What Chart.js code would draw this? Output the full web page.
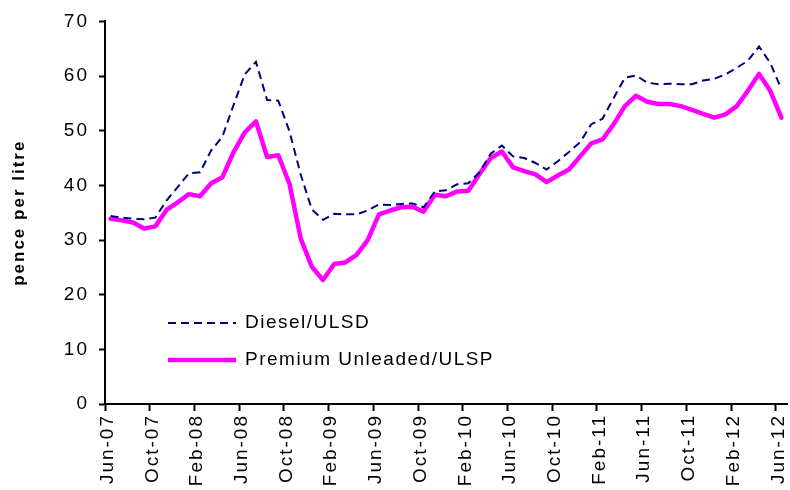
<!DOCTYPE html>
<html>
<head>
<meta charset="utf-8">
<script src="https://cdn.jsdelivr.net/npm/chart.js@4.4.1/dist/chart.umd.min.js"></script>
<style>
  body { margin: 0; background: #fff; }
  #wrap { width: 790px; height: 490px; position: relative; }
</style>
</head>
<body>
<div id="wrap"><canvas id="lineGraph"></canvas></div>
<script>
var months = [
    'Jun-07', 'Jul-07', 'Aug-07', 'Sep-07', 'Oct-07', 'Nov-07', 'Dec-07', 'Jan-08',
    'Feb-08', 'Mar-08', 'Apr-08', 'May-08', 'Jun-08', 'Jul-08', 'Aug-08', 'Sep-08',
    'Oct-08', 'Nov-08', 'Dec-08', 'Jan-09', 'Feb-09', 'Mar-09', 'Apr-09', 'May-09',
    'Jun-09', 'Jul-09', 'Aug-09', 'Sep-09', 'Oct-09', 'Nov-09', 'Dec-09', 'Jan-10',
    'Feb-10', 'Mar-10', 'Apr-10', 'May-10', 'Jun-10', 'Jul-10', 'Aug-10', 'Sep-10',
    'Oct-10', 'Nov-10', 'Dec-10', 'Jan-11', 'Feb-11', 'Mar-11', 'Apr-11', 'May-11',
    'Jun-11', 'Jul-11', 'Aug-11', 'Sep-11', 'Oct-11', 'Nov-11', 'Dec-11', 'Jan-12',
    'Feb-12', 'Mar-12', 'Apr-12', 'May-12', 'Jun-12'
];

var diesel = [
    34.4, 34.1, 33.9, 33.8, 34.1, 37.2, 39.7, 42.2, 42.4, 46.4, 48.9, 54.7,
    60.3, 62.6, 55.6, 55.5, 49.9, 42.0, 35.6, 33.7, 34.8, 34.7, 34.7, 35.4,
    36.5, 36.4, 36.6, 36.7, 36.0, 38.9, 39.1, 40.2, 40.4, 42.4, 45.8, 47.3,
    45.3, 45.0, 44.1, 42.9, 44.4, 46.1, 47.9, 51.2, 52.2, 56.0, 59.7, 60.1,
    58.8, 58.5, 58.6, 58.5, 58.5, 59.2, 59.5, 60.3, 61.5, 62.8, 65.4, 62.4,
    57.6
];

var premium = [
    33.9, 33.6, 33.2, 32.1, 32.5, 35.5, 36.9, 38.4, 38.0, 40.4, 41.5, 46.1,
    49.7, 51.7, 45.2, 45.5, 40.3, 30.3, 25.1, 22.7, 25.6, 25.9, 27.3, 30.0,
    34.7, 35.4, 36.0, 36.1, 35.2, 38.3, 38.0, 38.9, 39.0, 42.1, 45.0, 46.2,
    43.3, 42.6, 42.0, 40.6, 41.8, 42.9, 45.3, 47.7, 48.4, 51.2, 54.5, 56.4,
    55.3, 54.9, 54.9, 54.5, 53.8, 53.1, 52.4, 53.0, 54.5, 57.3, 60.4, 57.3,
    52.4
];

var yTicks = [0, 10, 20, 30, 40, 50, 60, 70];

var FONT = "'Liberation Sans', Arial, sans-serif";

// Excel-style wide text spacing
var spacingPlugin = {
    id: 'spacing',
    beforeUpdate: function(chart) { chart.ctx.letterSpacing = '2px'; },
    beforeDraw: function(chart) { chart.ctx.letterSpacing = '2px'; }
};

// legend sits inside the plot, lower left
var insideLegend = {
    id: 'insideLegend',
    afterDraw: function(chart) {
        var ctx = chart.ctx;
        var x0 = 168, x1 = 236, tx = 245;
        var rows = [323, 360];
        ctx.save();
        ctx.letterSpacing = '1.5px';
        ctx.font = '19px ' + FONT;
        ctx.textBaseline = 'middle';
        ctx.fillStyle = '#000';
        chart.data.datasets.forEach(function(ds, i) {
            var y = rows[i];
            ctx.beginPath();
            ctx.strokeStyle = ds.borderColor;
            ctx.lineWidth = ds.borderWidth;
            ctx.setLineDash(ds.borderDash || []);
            ctx.lineCap = 'butt';
            ctx.moveTo(x0, y);
            ctx.lineTo(x1, y);
            ctx.stroke();
            ctx.setLineDash([]);
            ctx.fillText(ds.label, tx, y);
        });
        ctx.restore();
    }
};

var ctx = document.getElementById('lineGraph').getContext('2d');
var chart = new Chart(ctx, {
    type: 'line',
    data: {
        labels: months,
        datasets: [{
            label: 'Diesel/ULSD',
            data: diesel,
            borderColor: '#000080',
            borderWidth: 2,
            borderDash: [8, 5],
            pointRadius: 0,
            tension: 0,
            fill: false
        }, {
            label: 'Premium Unleaded/ULSP',
            data: premium,
            borderColor: '#ff00ff',
            borderWidth: 4.5,
            borderJoinStyle: 'round',
            borderCapStyle: 'round',
            pointRadius: 0,
            tension: 0,
            fill: false
        }]
    },
    options: {
        responsive: true,
        maintainAspectRatio: false,
        animation: false,
        devicePixelRatio: 1,
        layout: {
            padding: { left: 0, right: 3, top: 20, bottom: 0 }
        },
        plugins: {
            legend: { display: false },
            tooltip: { enabled: false }
        },
        scales: {
            x: {
                type: 'category',
                offset: true,
                grid: {
                    offset: true,
                    drawOnChartArea: false,
                    drawTicks: true,
                    tickLength: 7,
                    tickWidth: 2,
                    tickColor: function(c) {
                        return c.index % 4 === 0 ? '#000' : 'rgba(0,0,0,0)';
                    }
                },
                border: { color: '#000', width: 2 },
                ticks: {
                    autoSkip: false,
                    maxRotation: 90,
                    minRotation: 90,
                    padding: 3,
                    labelOffset: -3,
                    color: '#000',
                    font: { family: FONT, size: 19 },
                    callback: function(value, index) {
                        return index % 4 === 0 ? months[index] : '';
                    }
                },
                afterFit: function(scale) {
                    scale.height = 86;
                    scale.paddingLeft = 0;
                    scale.paddingRight = 0;
                }
            },
            y: {
                min: 0,
                max: 70,
                afterBuildTicks: function(scale) {
                    scale.ticks = yTicks.map(function(v) { return { value: v }; });
                },
                grid: {
                    drawOnChartArea: false,
                    drawTicks: true,
                    tickLength: 6,
                    tickWidth: 2,
                    tickColor: '#000'
                },
                border: { color: '#000', width: 2 },
                ticks: {
                    padding: 10,
                    color: '#000',
                    font: { family: FONT, size: 19 }
                },
                title: {
                    display: true,
                    text: 'pence per litre',
                    color: '#000',
                    padding: { top: 9, bottom: 0 },
                    font: { family: FONT, size: 17, weight: 'bold' }
                },
                afterFit: function(scale) { scale.width = 105; }
            }
        }
    },
    plugins: [spacingPlugin, insideLegend]
});
</script>
</body>
</html>
